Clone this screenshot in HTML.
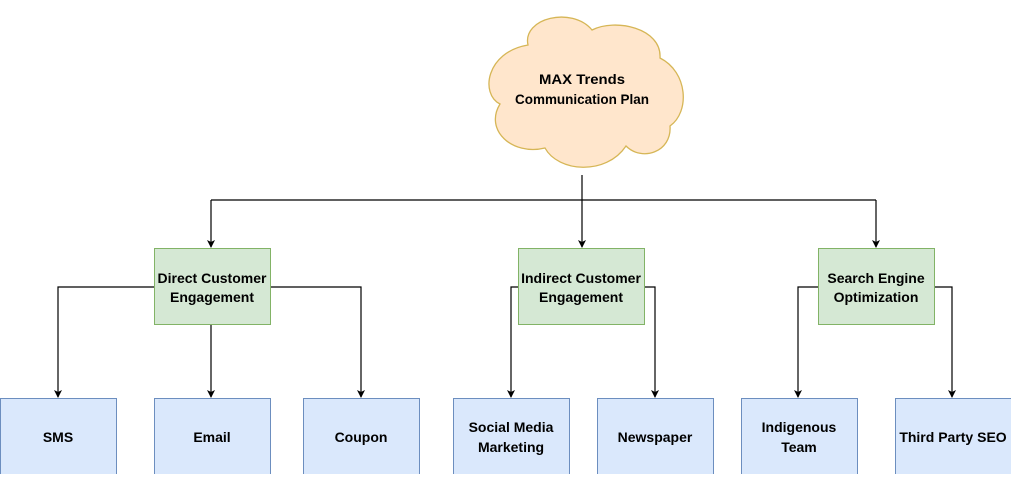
<!DOCTYPE html>
<html><head><style>
body{margin:0;width:1011px;height:474px;background:#fff;overflow:hidden}
svg text{font-family:"Liberation Sans",Arial,sans-serif;font-weight:bold;font-size:14px;fill:#000;text-anchor:middle}
</style></head><body>
<svg width="1011" height="474" viewBox="0 0 1011 474">
<defs><marker id="a" markerWidth="8" markerHeight="8" refX="7" refY="4" orient="auto" markerUnits="userSpaceOnUse"><path d="M0,0 L8,4 L0,8 L2,4 Z" fill="#000"/></marker></defs>
<path d="M528,45 C522,18 572,6 592,30 C615,18 662,28 660,58 C688,72 690,112 670,126 C672,152 642,162 626,146 C606,176 558,172 545,148 C512,156 484,130 500,104 C480,94 486,52 528,45 Z" fill="#ffe6cc" stroke="#d6b656" stroke-width="1.3"/>
<text x="582" y="84" textLength="86" lengthAdjust="spacingAndGlyphs">MAX Trends</text>
<text x="582" y="104" textLength="134" lengthAdjust="spacingAndGlyphs">Communication Plan</text>
<g stroke="#000" stroke-width="1.2" fill="none">
<path d="M582,175 V200"/>
<path d="M211,200 H876"/>
<path d="M211,200 V247" marker-end="url(#a)"/>
<path d="M582,200 V247" marker-end="url(#a)"/>
<path d="M876,200 V247" marker-end="url(#a)"/>
<path d="M154,287 H58 V397" marker-end="url(#a)"/>
<path d="M211,324 V397" marker-end="url(#a)"/>
<path d="M270,287 H361 V397" marker-end="url(#a)"/>
<path d="M518,287 H511 V397" marker-end="url(#a)"/>
<path d="M644,287 H655 V397" marker-end="url(#a)"/>
<path d="M818,287 H798 V397" marker-end="url(#a)"/>
<path d="M934,287 H952 V397" marker-end="url(#a)"/>
</g>
<g fill="#d5e8d4" stroke="#82b366" stroke-width="1">
<rect x="154.5" y="248.5" width="116" height="76"/>
<rect x="518.5" y="248.5" width="126" height="76"/>
<rect x="818.5" y="248.5" width="116" height="76"/>
</g>
<text x="212" y="283">Direct Customer</text><text x="212" y="302">Engagement</text>
<text x="581" y="283">Indirect Customer</text><text x="581" y="302">Engagement</text>
<text x="876" y="283">Search Engine</text><text x="876" y="302">Optimization</text>
<g fill="#dae8fc" stroke="#6c8ebf" stroke-width="1">
<rect x="0.5" y="398.5" width="116" height="76"/>
<rect x="154.5" y="398.5" width="116" height="76"/>
<rect x="303.5" y="398.5" width="116" height="76"/>
<rect x="453.5" y="398.5" width="116" height="76"/>
<rect x="597.5" y="398.5" width="116" height="76"/>
<rect x="741.5" y="398.5" width="116" height="76"/>
<rect x="895.5" y="398.5" width="116" height="76"/>
</g>
<text x="58" y="442">SMS</text>
<text x="212" y="442">Email</text>
<text x="361" y="442">Coupon</text>
<text x="511" y="432">Social Media</text><text x="511" y="452">Marketing</text>
<text x="655" y="442">Newspaper</text>
<text x="799" y="432">Indigenous</text><text x="799" y="452">Team</text>
<text x="953" y="442">Third Party SEO</text>
</svg>
</body></html>
